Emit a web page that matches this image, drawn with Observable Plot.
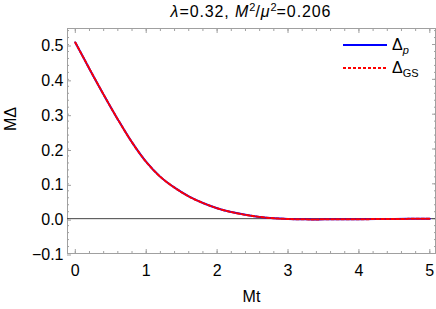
<!DOCTYPE html>
<html><head><meta charset="utf-8">
<script src="https://cdn.jsdelivr.net/npm/d3@7"></script>
<script src="https://cdn.jsdelivr.net/npm/@observablehq/plot@0.6"></script>
<style>
body{margin:0;background:#fff;font-family:"Liberation Sans",Arial,sans-serif;}
#wrap{position:relative;width:436px;height:309px;}
#title{position:absolute;top:2px;left:67px;width:368px;text-align:center;font-size:16px;line-height:20px;letter-spacing:0.9px;}
#title sup{font-size:11px;vertical-align:6px;line-height:0;letter-spacing:0;}
.leg{position:absolute;left:343px;width:95px;height:20px;font-size:16px;}
.leg svg{position:absolute;left:0;top:0;}
.leg span{position:absolute;left:49px;top:0;line-height:18px;}
.leg sub{font-size:11px;vertical-align:-4px;line-height:0;}
</style></head><body>
<div id="wrap">
<div id="title"><i>λ</i>=0.32, <i>M</i><sup>2</sup>/<i>μ</i><sup>2</sup>=0.206</div>
</div>
<script>
const t       = [0, 0.2, 0.4, 0.6, 0.8, 1.0, 1.2, 1.4, 1.6, 1.8, 2.0, 2.2, 2.4, 2.6, 2.8, 3.0, 3.25, 3.5, 4.0, 4.5, 5.0];
const deltaP  = [0.506, 0.430, 0.356, 0.285, 0.219, 0.163, 0.120, 0.089, 0.064, 0.045, 0.030, 0.019, 0.011, 0.005, 0.001, -0.001, -0.002, -0.002, -0.0015, -0.0008, -0.0003];
const deltaGS = [0.506, 0.430, 0.356, 0.285, 0.219, 0.163, 0.120, 0.089, 0.064, 0.045, 0.030, 0.019, 0.011, 0.005, 0.001, -0.001, -0.002, -0.002, -0.0015, -0.0008, -0.0003];
const xTicks = [0, 1, 2, 3, 4, 5];
const yTicks = [-0.1, 0, 0.1, 0.2, 0.3, 0.4, 0.5];
const xLabel = "Mt";
const yLabel = "MΔ";
const xMinor = d3.range(0, 5.05, 0.2);
const yMinor = d3.range(-0.1, 0.545, 0.02);

const rows = t.map((v, i) => ({t: v, p: deltaP[i], gs: deltaGS[i]}));
const frameColor = "#a0a0a0";

const chart = Plot.plot({
  width: 436, height: 309,
  marginLeft: 67, marginRight: 1, marginTop: 28, marginBottom: 56,
  style: {fontSize: "16px", fontFamily: "Liberation Sans, Arial, sans-serif", color: "#000", background: "transparent"},
  x: {domain: [-0.11, 5.08]},
  y: {domain: [-0.1, 0.546]},
  marks: [
    Plot.frame({stroke: frameColor}),
    Plot.axisX({anchor: "bottom", ticks: xMinor, tickSize: -2, stroke: frameColor, tickFormat: () => "", label: null}),
    Plot.axisX({anchor: "top", ticks: xMinor, tickSize: -2, stroke: frameColor, tickFormat: () => "", label: null}),
    Plot.axisY({anchor: "left", ticks: yMinor, tickSize: -2, stroke: frameColor, tickFormat: () => "", label: null}),
    Plot.axisY({anchor: "right", ticks: yMinor, tickSize: -2, stroke: frameColor, tickFormat: () => "", label: null}),
    Plot.axisX({anchor: "top", ticks: xTicks, tickSize: -4, stroke: frameColor, tickFormat: () => "", label: null}),
    Plot.axisY({anchor: "right", ticks: yTicks, tickSize: -4, stroke: frameColor, tickFormat: () => "", label: null}),
    Plot.axisX({anchor: "bottom", ticks: xTicks, tickSize: -4, tickPadding: 15, stroke: frameColor, tickFormat: d3.format("d"), label: null}),
    Plot.axisY({anchor: "left", ticks: yTicks, tickSize: -4, tickPadding: 8, dy: 1.5, stroke: frameColor, tickFormat: d3.format(".1f"), label: null}),
    Plot.text([xLabel], {frameAnchor: "bottom", dy: 48, text: d => d, fontSize: 16}),
    Plot.text([yLabel], {frameAnchor: "left", dx: -57, dy: -10, rotate: -90, text: d => d, fontSize: 16}),
    Plot.ruleY([0], {stroke: "#444", strokeWidth: 1}),
    Plot.line(rows, {x: "t", y: "p", stroke: "#0000ff", strokeWidth: 2, curve: "catmull-rom"}),
    Plot.line(rows, {x: "t", y: "gs", stroke: "#ff0000", strokeWidth: 2, strokeDasharray: "3,2", curve: "catmull-rom"})
  ]
});
chart.style.position = "absolute";
chart.style.left = "0";
chart.style.top = "0";
const wrap = document.getElementById("wrap");
wrap.insertBefore(chart, wrap.firstChild);

const legendItems = [
  {name: "Δ", sub: "p", italic: true, color: "#0000ff", dash: null, top: 36},
  {name: "Δ", sub: "GS", italic: false, color: "#ff0000", dash: "3,2", top: 59}
];
for (const it of legendItems) {
  const d = document.createElement("div");
  d.className = "leg";
  d.style.top = it.top + "px";
  d.innerHTML = `<svg width="46" height="20"><line x1="0" x2="44" y1="9" y2="9" stroke="${it.color}" stroke-width="2" ${it.dash ? `stroke-dasharray="${it.dash}"` : ""}/></svg>` +
    `<span>${it.name}<sub>${it.italic ? `<i>${it.sub}</i>` : it.sub}</sub></span>`;
  wrap.appendChild(d);
}
</script>
</body></html>
